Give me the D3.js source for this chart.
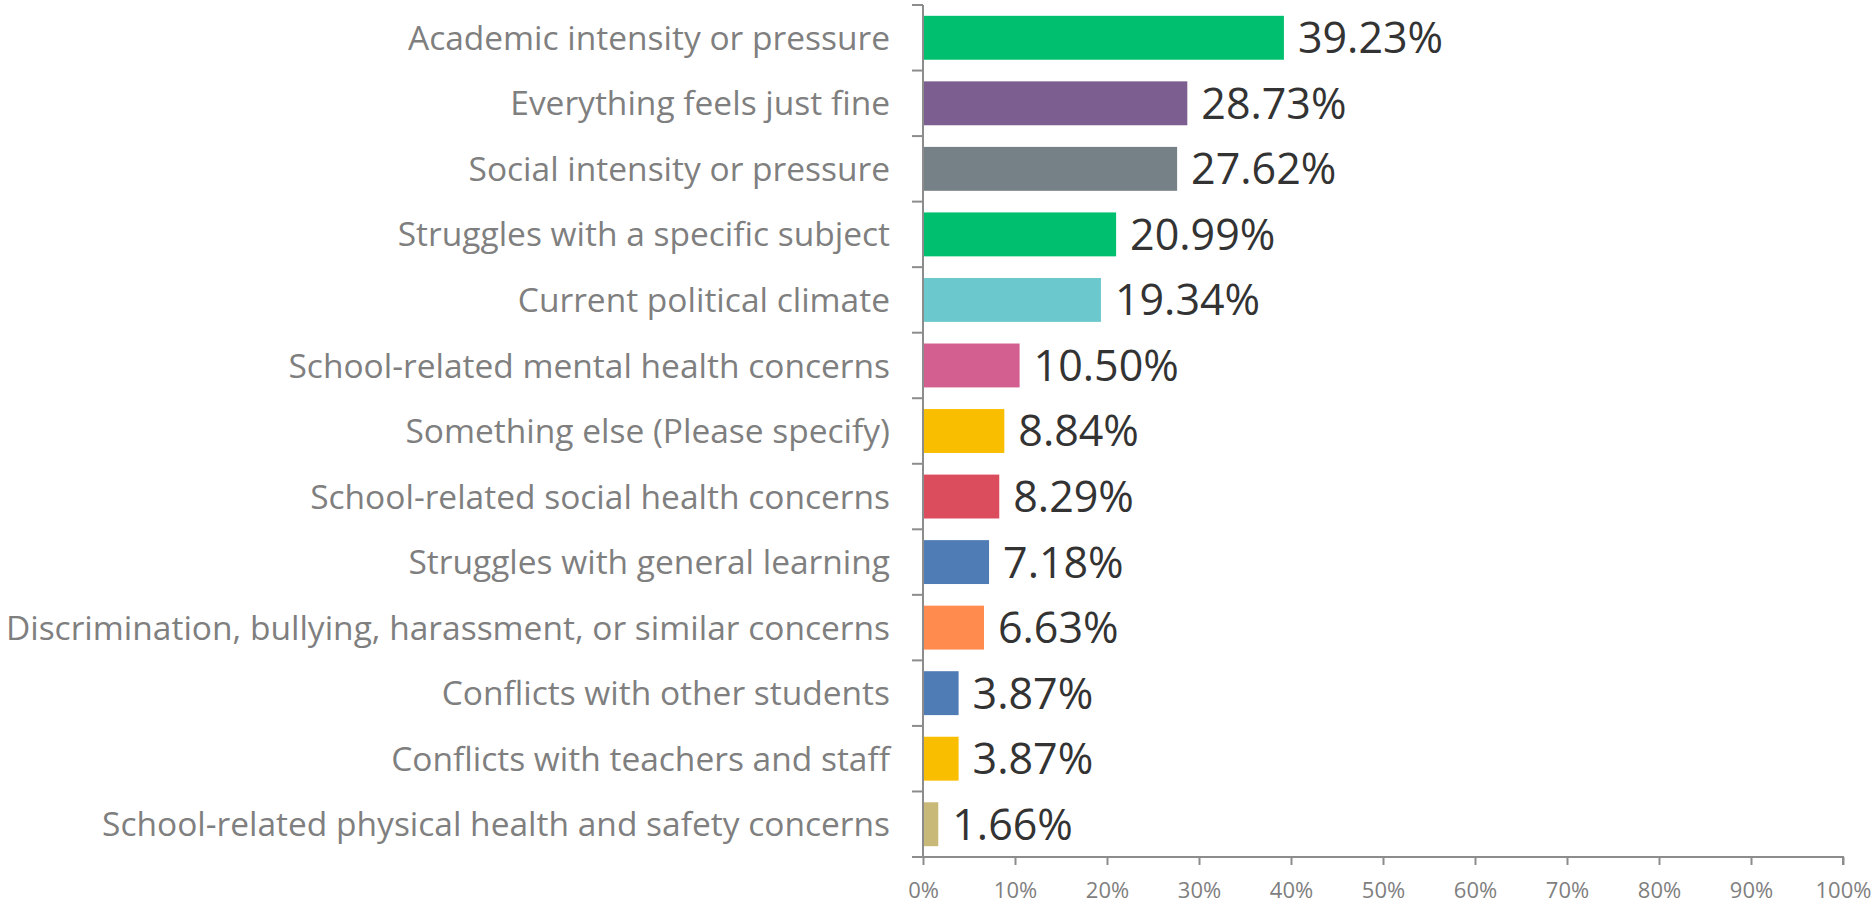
<!DOCTYPE html>
<html>
<head>
<meta charset="utf-8">
<script src="https://cdn.jsdelivr.net/npm/d3@7"></script>
<style>
  html, body { margin: 0; padding: 0; background: #fff; }
  #chart svg { display: block; }
</style>
</head>
<body>
<div id="chart"></div>
<script>
// data
var categories = [
    "Academic intensity or pressure",
    "Everything feels just fine",
    "Social intensity or pressure",
    "Struggles with a specific subject",
    "Current political climate",
    "School-related mental health concerns",
    "Something else (Please specify)",
    "School-related social health concerns",
    "Struggles with general learning",
    "Discrimination, bullying, harassment, or similar concerns",
    "Conflicts with other students",
    "Conflicts with teachers and staff",
    "School-related physical health and safety concerns"
];
var values = [39.23, 28.73, 27.62, 20.99, 19.34, 10.50, 8.84, 8.29, 7.18, 6.63, 3.87, 3.87, 1.66];
var barColors = ["#00BF6F", "#7D5E90", "#768087", "#00BF6F", "#6BC8CD", "#D25F90", "#F9BE00",
                 "#DB4D5C", "#507CB6", "#FF8B4F", "#507CB6", "#F9BE00", "#C9B978"];
var xTicks = [0, 10, 20, 30, 40, 50, 60, 70, 80, 90, 100];

var svgWidth = 1874, svgHeight = 908;
var margin = { top: 5, right: 31, bottom: 51, left: 923 };
var width = svgWidth - margin.left - margin.right;
var height = svgHeight - margin.top - margin.bottom;
var axisColor = "#8c8c8c";
var font = "'Open Sans', sans-serif";

var svg = d3.select("#chart").append("svg")
    .attr("width", svgWidth)
    .attr("height", svgHeight);

var g = svg.append("g")
    .attr("transform", "translate(" + margin.left + "," + margin.top + ")");

var x = d3.scaleLinear()
    .domain([0, 100])
    .range([0, width]);

var y = d3.scaleBand()
    .domain(categories)
    .range([0, height])
    .paddingInner(0.33)
    .paddingOuter(0.165);

// bars
g.selectAll(".bar")
    .data(values)
    .enter().append("rect")
    .attr("class", "bar")
    .attr("x", 0)
    .attr("y", function(d, i) { return y(categories[i]); })
    .attr("width", function(d) { return x(d); })
    .attr("height", y.bandwidth())
    .attr("fill", function(d, i) { return barColors[i]; });

// value labels
g.selectAll(".val")
    .data(values)
    .enter().append("text")
    .attr("class", "val")
    .attr("x", function(d) { return x(d) + 14; })
    .attr("y", function(d, i) { return y(categories[i]) + y.bandwidth() / 2; })
    .attr("dy", "0.36em")
    .attr("fill", "#333333")
    .style("font-family", font)
    .style("font-size", "43px")
    .text(function(d) { return d.toFixed(2) + "%"; });

// x axis
var xAxis = g.append("g")
    .attr("transform", "translate(0," + height + ")")
    .call(d3.axisBottom(x).tickValues(xTicks).tickSize(8).tickPadding(17)
        .tickFormat(function(d) { return d + "%"; }));
xAxis.select(".domain").attr("stroke", axisColor).attr("stroke-width", 2)
    .attr("d", "M-11,0H" + width + "V8");
xAxis.selectAll(".tick line").attr("stroke", axisColor).attr("stroke-width", 2);
xAxis.selectAll(".tick text")
    .attr("fill", "#7f7f7f")
    .style("font-family", font)
    .style("font-size", "22px");

// y axis: ticks sit on the band boundaries, labels in the band middle
var yAxis = g.append("g");
yAxis.append("line")
    .attr("x1", 0).attr("x2", 0)
    .attr("y1", 0).attr("y2", height)
    .attr("stroke", axisColor).attr("stroke-width", 2);
yAxis.selectAll(".ytick")
    .data(categories)
    .enter().append("line")
    .attr("class", "ytick")
    .attr("x1", -11).attr("x2", 0)
    .attr("y1", function(d) { return y(d) - y.step() * y.paddingInner() / 2; })
    .attr("y2", function(d) { return y(d) - y.step() * y.paddingInner() / 2; })
    .attr("stroke", axisColor).attr("stroke-width", 2);
yAxis.selectAll(".ylab")
    .data(categories)
    .enter().append("text")
    .attr("class", "ylab")
    .attr("x", -33)
    .attr("y", function(d) { return y(d) + y.bandwidth() / 2; })
    .attr("dy", "0.36em")
    .attr("text-anchor", "end")
    .attr("fill", "#7f7f7f")
    .style("font-family", font)
    .style("font-size", "33.5px")
    .text(function(d) { return d; });
</script>
</body>
</html>
